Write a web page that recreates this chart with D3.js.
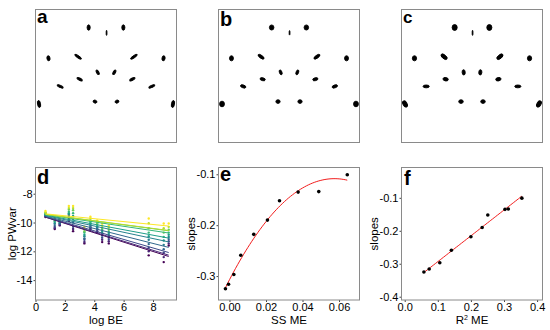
<!DOCTYPE html>
<html lang="en">
<head>
<meta charset="UTF-8">
<title>Landmark scatter and PW variance slopes</title>
<style>
  body { margin: 0; background: #fff; }
  svg { font-family: 'Liberation Sans', Arial, sans-serif; }
  .tick line { stroke: #444; }
  .tick text { fill: #000; font-size: 11px; }
</style>
</head>
<body>
<svg id="chart" width="550" height="330"></svg>
<script src="https://d3js.org/d3.v7.min.js"></script>
<script>
// mean landmark configuration (shared by a, b, c)
const lmX = [-0.123, 0.123, 0.004, -0.408, -0.198, 0.198, 0.408, -0.059, 0.059,
             -0.187, 0.187, -0.325, 0.325, -0.475, 0.475, -0.078, 0.078];
const lmY = [0.345, 0.345, 0.307, 0.126, 0.137, 0.137, 0.126, 0.026, 0.026,
             -0.023, -0.023, -0.074, -0.074, -0.199, -0.199, -0.182, -0.182];

// scatter of each landmark: [major sd, minor sd, angle deg]
const spreadA = [[0.019,0.011,90],[0.019,0.011,90],[0.018,0.003,90],[0.018,0.011,80],
  [0.028,0.008,35],[0.028,0.008,-35],[0.018,0.011,100],[0.018,0.008,60],[0.018,0.008,-60],
  [0.021,0.008,30],[0.021,0.008,-30],[0.023,0.008,25],[0.023,0.008,-25],
  [0.025,0.011,80],[0.025,0.011,100],[0.014,0.010,20],[0.014,0.010,-20]];
const spreadB = [[0.018,0.016,90],[0.018,0.016,90],[0.016,0.003,90],[0.018,0.014,90],
  [0.025,0.010,35],[0.025,0.010,-35],[0.018,0.014,90],[0.018,0.009,70],[0.018,0.009,-70],
  [0.019,0.010,15],[0.019,0.010,-15],[0.020,0.010,20],[0.020,0.010,-20],
  [0.020,0.017,90],[0.020,0.017,90],[0.015,0.013,0],[0.015,0.013,0]];
const spreadC = [[0.021,0.018,90],[0.021,0.018,90],[0.018,0.003,90],[0.018,0.015,90],
  [0.026,0.013,40],[0.026,0.013,-40],[0.018,0.015,90],[0.019,0.011,85],[0.019,0.011,95],
  [0.019,0.012,10],[0.019,0.012,-10],[0.022,0.010,0],[0.022,0.010,0],
  [0.024,0.014,60],[0.024,0.014,-60],[0.016,0.013,0],[0.016,0.013,0]];

// panel d: log BE positions, per-series log PWvar (steepest -> flattest)
const logBE = [0.68, 1.31, 1.65, 2.27, 2.56, 3.33, 3.74, 4.2, 4.54, 4.99, 7.71, 8.73, 9.07];
const pwvar = [
  [-9.62, -10.45, -10.2, -9.9, -10.6, -11.45, -10.5, -10.7, -11.36, -11.45, -12.28, -12.75, -11.6],
  [-9.58, -10.38, -10.15, -9.75, -10.45, -11.35, -10.42, -10.6, -11.2, -11.3, -12.0, -12.4, -11.45],
  [-9.55, -10.3, -10.1, -9.65, -10.3, -11.2, -10.33, -10.5, -11.05, -11.15, -11.75, -12.1, -11.3],
  [-9.5, -10.18, -10.05, -9.55, -10.0, -11.1, -10.25, -10.42, -10.9, -11.0, -11.5, -11.85, -11.15],
  [-9.47, -10.05, -9.98, -9.45, -9.75, -10.95, -10.15, -10.33, -10.78, -10.9, -11.2, -11.55, -11.0],
  [-9.42, -9.95, -9.92, -9.35, -9.55, -10.85, -10.05, -10.25, -10.65, -10.78, -10.95, -11.25, -10.85],
  [-9.38, -9.88, -9.86, -9.25, -9.35, -10.7, -9.95, -10.15, -10.5, -10.65, -10.7, -11.0, -10.7],
  [-9.33, -9.78, -9.8, -9.1, -9.15, -10.6, -9.85, -10.05, -10.38, -10.5, -10.4, -10.7, -10.5],
  [-9.28, -9.7, -9.75, -9.0, -9.0, -10.45, -9.72, -9.95, -10.22, -10.35, -10.05, -10.4, -10.3],
  [-9.2, -9.6, -9.7, -8.85, -8.85, -10.3, -9.6, -9.86, -10.07, -10.2, -9.72, -10.07, -10.07]
];
const intercepts = [-9.41, -9.40, -9.39, -9.38, -9.37, -9.36, -9.35, -9.35, -9.34, -9.33];
const slopes = [-0.325, -0.316, -0.297, -0.259, -0.218, -0.190, -0.152, -0.135, -0.134, -0.101];

// panels e, f
const ssME = [-0.0022, -0.0005, 0.0024, 0.0062, 0.0133, 0.0208, 0.0274, 0.0376, 0.0489, 0.0645];
const r2ME = [0.058, 0.074, 0.106, 0.141, 0.200, 0.234, 0.251, 0.303, 0.313, 0.354];

const dTicksX = [0, 2, 4, 6, 8], dTicksY = [-8, -10, -12, -14];
const eTicksX = [0, 0.02, 0.04, 0.06], eTicksY = [-0.1, -0.2, -0.3];
const fTicksX = [0, 0.1, 0.2, 0.3, 0.4], fTicksY = [-0.1, -0.2, -0.3, -0.4];

const svg = d3.select("#chart");
const colX = [35.5, 218.5, 401.5], pw = 141;
const topY = 9.5, topH = 133, botY = 167.5, botH = 132.5;
const color = i => d3.interpolateViridis(i / (slopes.length - 1));

function frame(x, y, w, h) {
  svg.append("rect").attr("x", x).attr("y", y).attr("width", w).attr("height", h)
    .attr("fill", "none").attr("stroke", "#8a8a8a").attr("stroke-width", 1);
}
function panelLabel(txt, x, y, size) {
  svg.append("text").attr("x", x).attr("y", y).attr("font-size", size)
    .attr("font-weight", "bold").text(txt);
}

// ---- a, b, c ----
const tops = [
  {spread: spreadA, label: "a", fs: 19, by: 22.5},
  {spread: spreadB, label: "b", fs: 20, by: 25.5},
  {spread: spreadC, label: "c", fs: 17, by: 22.5}
];
tops.forEach((p, j) => {
  const x0 = colX[j];
  const sx = d3.scaleLinear().domain([-0.5, 0.5]).range([x0, x0 + pw]);
  const sy = d3.scaleLinear().domain([-0.473, 0.473]).range([topY + topH, topY]);
  const k = sx(1) - sx(0);
  frame(x0, topY, pw, topH);
  svg.append("g").selectAll("ellipse").data(lmX).join("ellipse")
    .attr("cx", (d, i) => sx(d))
    .attr("cy", (d, i) => sy(lmY[i]))
    .attr("rx", (d, i) => p.spread[i][0] * k)
    .attr("ry", (d, i) => p.spread[i][1] * k)
    .attr("transform", (d, i) => `rotate(${p.spread[i][2]},${sx(d)},${sy(lmY[i])})`)
    .attr("fill", "#000").attr("stroke", "#000").attr("stroke-width", 0.9);
  panelLabel(p.label, x0 + 1.5, p.by, p.fs);
});

// ---- bottom axes helper ----
function axes(sx, sy, tx, ty, fmtX, fmtY) {
  svg.append("g").attr("transform", `translate(0,${botY + botH})`)
    .call(d3.axisBottom(sx).tickValues(tx).tickSize(2).tickPadding(1).tickFormat(fmtX))
    .call(g => g.select(".domain").remove());
  svg.append("g").attr("transform", `translate(${sx.range()[0]},0)`)
    .call(d3.axisLeft(sy).tickValues(ty).tickSize(2).tickPadding(1).tickFormat(fmtY))
    .call(g => g.select(".domain").remove());
}
function titles(xt, cx, ycx) {
  const t = svg.append("text").attr("x", cx).attr("y", 323.5).attr("text-anchor", "middle")
    .attr("font-size", 11.5);
  xt(t);
  svg.append("text").attr("transform", `translate(${ycx},${botY + botH / 2}) rotate(-90)`)
    .attr("text-anchor", "middle").attr("dy", "0.35em").attr("font-size", 11.5)
    .text(ycx < 100 ? "log PWvar" : "slopes");
}

// ---- d ----
{
  const x0 = colX[0];
  const sx = d3.scaleLinear().domain([0, 9.6]).range([x0, x0 + pw]);
  const sy = d3.scaleLinear().domain([-15.38, -6.18]).range([botY + botH, botY]);
  axes(sx, sy, dTicksX, dTicksY, d => String(d), d => String(d));
  pwvar.forEach((row, i) => {
    svg.append("g").selectAll("circle").data(row).join("circle")
      .attr("cx", (d, j) => sx(logBE[j])).attr("cy", d => sy(d))
      .attr("r", 1.2).attr("fill", color(i));
  });
  const x1 = logBE[0], x2 = logBE[logBE.length - 1];
  slopes.forEach((b, i) => {
    svg.append("line")
      .attr("x1", sx(x1)).attr("y1", sy(intercepts[i] + b * x1))
      .attr("x2", sx(x2)).attr("y2", sy(intercepts[i] + b * x2))
      .attr("stroke", color(i)).attr("stroke-width", 1);
  });
  frame(x0, botY, pw, botH);
  panelLabel("d", x0 + 1.5, 184, 20);
  titles(t => t.text("log BE"), x0 + pw / 2, 12);
}

// least squares polynomial fit (degree 1 or 2)
function polyfit(xs, ys, deg) {
  const n = deg + 1;
  const A = [], B = [];
  for (let r = 0; r < n; r++) {
    A.push([]);
    for (let c = 0; c < n; c++) A[r].push(d3.sum(xs, x => Math.pow(x, r + c)));
    B.push(d3.sum(xs, (x, i) => Math.pow(x, r) * ys[i]));
  }
  for (let c = 0; c < n; c++) {
    for (let r = c + 1; r < n; r++) {
      const f = A[r][c] / A[c][c];
      for (let k = c; k < n; k++) A[r][k] -= f * A[c][k];
      B[r] -= f * B[c];
    }
  }
  const coef = new Array(n).fill(0);
  for (let r = n - 1; r >= 0; r--) {
    let s = B[r];
    for (let k = r + 1; k < n; k++) s -= A[r][k] * coef[k];
    coef[r] = s / A[r][r];
  }
  return x => coef.reduce((acc, c, p) => acc + c * Math.pow(x, p), 0);
}

function fitPanel(j, xs, domX, domY, tx, ty, fmtX, deg, label, lby, xt) {
  const x0 = colX[j];
  const sx = d3.scaleLinear().domain(domX).range([x0, x0 + pw]);
  const sy = d3.scaleLinear().domain(domY).range([botY + botH, botY]);
  axes(sx, sy, tx, ty, fmtX, d => d.toFixed(1));
  const fit = polyfit(xs, slopes, deg);
  const xr = d3.extent(xs);
  const grid = d3.range(0, 61).map(i => xr[0] + (xr[1] - xr[0]) * i / 60);
  svg.append("path").datum(grid)
    .attr("d", d3.line().x(d => sx(d)).y(d => sy(fit(d))))
    .attr("fill", "none").attr("stroke", "#f21d1d").attr("stroke-width", 1);
  svg.append("g").selectAll("circle").data(xs).join("circle")
    .attr("cx", d => sx(d)).attr("cy", (d, i) => sy(slopes[i]))
    .attr("r", 1.8).attr("fill", "#000");
  frame(x0, botY, pw, botH);
  panelLabel(label, x0 + (label === "f" ? 2.5 : 1.5), lby, 20);
  titles(xt, x0 + pw / 2, j === 1 ? 191 : 373.5);
}

fitPanel(1, ssME, [-0.0060, 0.0712], [-0.347, -0.0867], eTicksX, eTicksY,
  d => d.toFixed(2), 2, "e", 181, t => t.text("SS ME"));
fitPanel(2, r2ME, [-0.0097, 0.4163], [-0.41, -0.008], fTicksX, fTicksY,
  d => d.toFixed(1), 1, "f", 185, t => {
    t.append("tspan").text("R");
    t.append("tspan").attr("font-size", 7).attr("dy", -4).text("2");
    t.append("tspan").attr("dy", 4).text(" ME");
  });
</script>
</body>
</html>
